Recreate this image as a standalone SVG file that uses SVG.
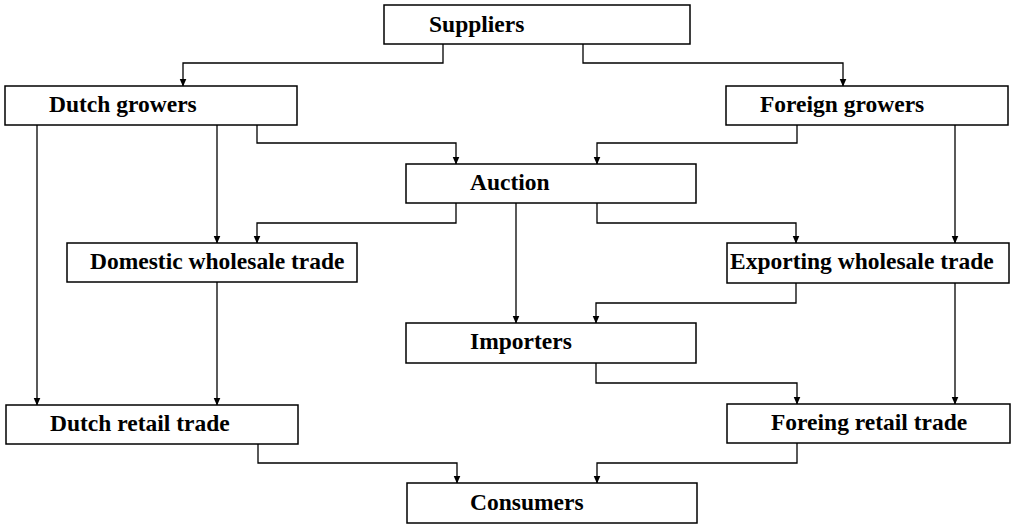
<svg xmlns="http://www.w3.org/2000/svg" width="1015" height="525" viewBox="0 0 1015 525">
<style>
.box{fill:#fff;stroke:#000;stroke-width:1.5}
.lbl{font-family:"Liberation Serif","Times New Roman",serif;font-weight:bold;font-size:23.5px;fill:#000}
.con{fill:none;stroke:#000;stroke-width:1.3;marker-end:url(#arr)}
</style>
<defs>
<marker id="arr" viewBox="0 -4 8 8" refX="7.5" refY="0" markerWidth="8" markerHeight="8" markerUnits="userSpaceOnUse" orient="auto">
<path d="M0,-3.5 L8,0 L0,3.5 Z" fill="#000"/>
</marker>
</defs>
<rect width="1015" height="525" fill="#fff"/>
<g id="connectors">
<path class="con" d="M443,44 V63 H183 V86"/>
<path class="con" d="M583,44 V63 H843 V86"/>
<path class="con" d="M37,125 V405"/>
<path class="con" d="M217,125 V243"/>
<path class="con" d="M257,125 V143 H456 V164"/>
<path class="con" d="M797,125 V143 H597 V164"/>
<path class="con" d="M955,125 V243"/>
<path class="con" d="M456,203 V223 H257 V243"/>
<path class="con" d="M516,203 V323"/>
<path class="con" d="M597,203 V223 H796 V243"/>
<path class="con" d="M217,282 V405"/>
<path class="con" d="M796,283 V303 H596 V323"/>
<path class="con" d="M955,283 V404"/>
<path class="con" d="M596,363 V383 H797 V404"/>
<path class="con" d="M258,444 V463 H457 V483"/>
<path class="con" d="M797,443 V463 H597 V483"/>
</g>
<g id="suppliers"><rect class="box" x="384" y="5" width="306" height="39"/><text class="lbl" x="429" y="32">Suppliers</text></g>
<g id="dutch-growers"><rect class="box" x="5" y="86" width="292" height="39"/><text class="lbl" x="49" y="112">Dutch growers</text></g>
<g id="foreign-growers"><rect class="box" x="726" y="86" width="282" height="39"/><text class="lbl" x="760" y="112">Foreign growers</text></g>
<g id="auction"><rect class="box" x="406" y="164" width="290" height="39"/><text class="lbl" x="470" y="190">Auction</text></g>
<g id="domestic-wholesale"><rect class="box" x="67" y="243" width="290" height="39"/><text class="lbl" x="90" y="269">Domestic wholesale trade</text></g>
<g id="exporting-wholesale"><rect class="box" x="727" y="243" width="282" height="40"/><text class="lbl" x="730" y="269">Exporting wholesale trade</text></g>
<g id="importers"><rect class="box" x="406" y="323" width="290" height="40"/><text class="lbl" x="470" y="349">Importers</text></g>
<g id="dutch-retail"><rect class="box" x="6" y="405" width="292" height="39"/><text class="lbl" x="50" y="431">Dutch retail trade</text></g>
<g id="foreign-retail"><rect class="box" x="727" y="404" width="283" height="39"/><text class="lbl" x="771" y="430">Foreing retail trade</text></g>
<g id="consumers"><rect class="box" x="407" y="483" width="290" height="40"/><text class="lbl" x="470" y="510">Consumers</text></g>
</svg>
